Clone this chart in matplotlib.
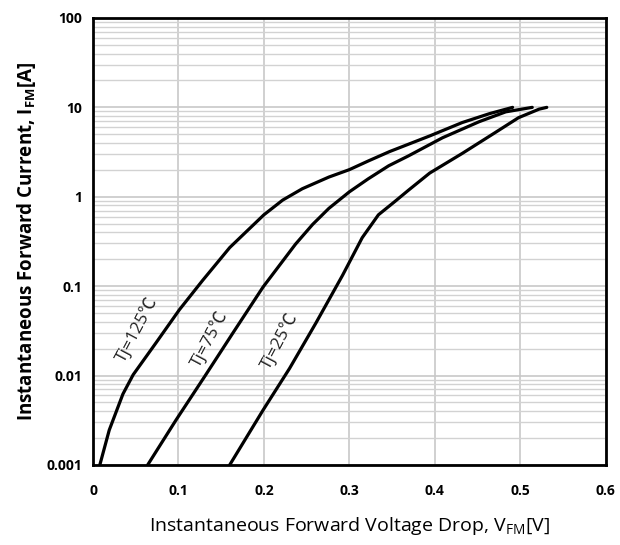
import numpy as np
import matplotlib.pyplot as plt
from matplotlib.ticker import LogLocator, FixedLocator

# forward characteristics
v_125 = [0.008, 0.019, 0.035, 0.047, 0.074, 0.101, 0.128, 0.160, 0.180, 0.200,
         0.222, 0.245, 0.276, 0.300, 0.322, 0.347, 0.394, 0.432, 0.464, 0.491]
i_125 = [0.001, 0.00245, 0.0062, 0.0102, 0.0234, 0.0543, 0.115, 0.270, 0.412, 0.628,
         0.918, 1.23, 1.66, 2.01, 2.51, 3.2, 4.79, 6.76, 8.51, 10.0]

v_75 = [0.064, 0.097, 0.132, 0.164, 0.199, 0.237, 0.257, 0.276, 0.300, 0.322,
        0.346, 0.369, 0.409, 0.452, 0.483, 0.514]
i_75 = [0.001, 0.00316, 0.0102, 0.0302, 0.0977, 0.295, 0.49, 0.741, 1.135, 1.585,
        2.22, 2.86, 4.57, 6.92, 8.91, 10.0]

v_25 = [0.160, 0.199, 0.230, 0.261, 0.292, 0.315, 0.334, 0.353, 0.369, 0.394,
        0.432, 0.471, 0.498, 0.522, 0.531]
i_25 = [0.001, 0.0041, 0.012, 0.0389, 0.132, 0.348, 0.628, 0.881, 1.18, 1.84,
        3.05, 5.25, 7.67, 9.55, 10.0]

labels = ['Tj=125℃', 'Tj=75℃', 'Tj=25℃']
label_pos = [(0.052, 0.033), (0.136, 0.026), (0.218, 0.0245)]

x_ticks = [0, 0.1, 0.2, 0.3, 0.4, 0.5, 0.6]
x_ticklabels = ['0', '0.1', '0.2', '0.3', '0.4', '0.5', '0.6']
y_ticks = [0.001, 0.01, 0.1, 1, 10, 100]
y_ticklabels = ['0.001', '0.01', '0.1', '1', '10', '100']

plt.rcParams['font.family'] = ['Open Sans', 'Noto Sans CJK JP', 'DejaVu Sans']

fig = plt.figure(figsize=(6.2, 5.45), dpi=100)
ax = fig.add_axes([0.15, 0.147, 0.827, 0.820])

ax.set_yscale('log')
ax.set_xlim(0, 0.6)
ax.set_ylim(0.001, 100)

# grid: vertical every 0.1, horizontal at every log minor step
ax.yaxis.set_minor_locator(LogLocator(base=10, subs=np.arange(2, 10)))
ax.xaxis.set_major_locator(FixedLocator(x_ticks))
ax.grid(which='major', axis='both', color='#c8c8c8', lw=1.2)
ax.grid(which='minor', axis='y', color='#d2d2d2', lw=1.0)
ax.set_axisbelow(True)

for v, i in [(v_125, i_125), (v_75, i_75), (v_25, i_25)]:
    ax.plot(v, i, color='black', lw=2.3, solid_capstyle='round',
            solid_joinstyle='round')

for txt, (x, y) in zip(labels, label_pos):
    ax.text(x, y, txt, rotation=62, ha='center', va='center',
            fontsize=12.5, color='#222222')

ax.set_xticks(x_ticks)
ax.set_xticklabels(x_ticklabels, fontweight='bold', fontsize=10)
ax.set_yticks(y_ticks)
ax.set_yticklabels(y_ticklabels, fontweight='bold', fontsize=10)
ax.tick_params(which='both', length=0, pad=14)
ax.tick_params(axis='y', pad=8)

for s in ax.spines.values():
    s.set_linewidth(2)
    s.set_color('black')

ax.set_xlabel(r'Instantaneous Forward Voltage Drop, V$_{\mathregular{FM}}$[V]',
              fontsize=14, labelpad=12)
ax.set_ylabel(r'Instantaneous Forward Current, I$_{\mathregular{FM}}$[A]',
              fontsize=13.5, fontweight='bold', labelpad=6)

fig.savefig('out.png', dpi=100)
